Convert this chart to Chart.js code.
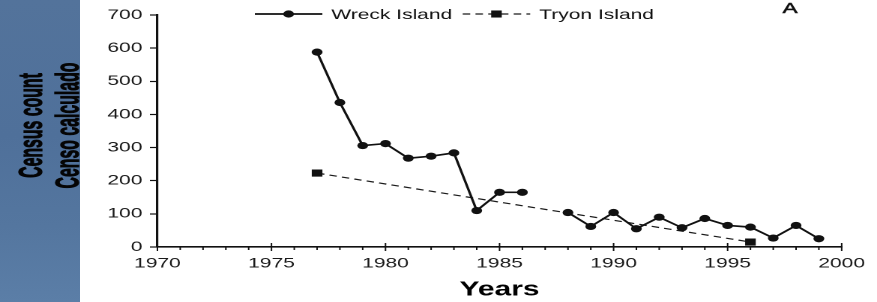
<!DOCTYPE html>
<html>
<head>
<meta charset="utf-8">
<script src="https://cdn.jsdelivr.net/npm/chart.js@4.4.0/dist/chart.umd.min.js"></script>
<style>
html,body{margin:0;padding:0;background:#fff;overflow:hidden}
#wrap{position:relative;width:877px;height:302px;background:#fff}
#panel{position:absolute;left:0;top:0;width:80px;height:302px;
  background:linear-gradient(to bottom,#53739b 0%,#4f709a 45%,#54769f 75%,#5b7ea7 100%)}
#stretch{position:absolute;left:0;top:0;width:585px;height:302px;transform:scaleX(1.49915);transform-origin:0 0}
canvas{display:block}
</style>
</head>
<body>
<div id="wrap">
  <div id="panel"></div>
  <div id="stretch"><canvas id="c" width="585" height="302"></canvas></div>
</div>
<script>
// ---- data ----
const wreckYears  = [1977,1978,1979,1980,1981,1982,1983,1984,1985,1986,1987,1988,1989,1990,1991,1992,1993,1994,1995,1996,1997,1998,1999];
const wreckCounts = [588, 436, 306, 312, 268, 274, 284, 110, 165, 165, null, 104, 62, 104, 55, 90, 58, 86, 65, 60, 27, 65, 25];
const tryonYears  = [1977, 1996];
const tryonCounts = [223, 15];
const seriesNames = ['Wreck Island', 'Tryon Island'];
const yTitle = ['Census count', 'Censo calculado'];
const xTitle = 'Years';
const panelLetter = 'A';

const toPoints = (xs, ys) => xs.map((x, i) => ({x: x, y: ys[i]}));
const INK = '#111';
const tickFont = {family: '"Liberation Sans", Arial, sans-serif', size: 14};

const minorTicks = {
  id: 'minorTicks',
  afterDraw(chart) {
    const {ctx, chartArea} = chart;
    const xs = chart.scales.x;
    const yb = chartArea.bottom;
    ctx.save();
    ctx.strokeStyle = INK;
    ctx.lineWidth = 1;
    for (let v = xs.min; v <= xs.max; v++) {
      const px = xs.getPixelForValue(v);
      const major = v % 5 === 0;
      ctx.beginPath();
      ctx.moveTo(px, major ? yb - 4 : yb);
      ctx.lineTo(px, yb + (major ? 4 : 3));
      ctx.stroke();
    }
    ctx.restore();
  }
};

// condensed, rotated y-axis title drawn in the empty left strip of the y scale
const condensedYTitle = {
  id: 'condensedYTitle',
  afterDraw(chart) {
    const ctx = chart.ctx;
    const lines = chart.options.scales.y.title.text;
    const baselines = [28, 52.5];
    const cy = 125.5;
    ctx.save();
    ctx.fillStyle = '#050505';
    ctx.strokeStyle = '#050505';
    ctx.lineWidth = 0.7;
    ctx.font = 'bold 22px "Liberation Sans", Arial, sans-serif';
    ctx.textAlign = 'center';
    ctx.textBaseline = 'alphabetic';
    lines.forEach((t, i) => {
      ctx.save();
      ctx.translate(baselines[i], cy);
      ctx.rotate(-Math.PI / 2);
      ctx.scale(0.72, 1);
      ctx.fillText(t, 0, 0);
      ctx.strokeText(t, 0, 0);
      ctx.restore();
    });
    ctx.restore();
  }
};

const lineLegend = {
  id: 'lineLegend',
  afterDraw(chart) {
    const ctx = chart.ctx;
    let x = 170;
    const y = 14;
    ctx.save();
    ctx.font = '14px "Liberation Sans", Arial, sans-serif';
    ctx.textBaseline = 'middle';
    chart.data.datasets.forEach(ds => {
      ctx.strokeStyle = ds.borderColor;
      ctx.fillStyle = ds.backgroundColor;
      ctx.lineWidth = ds.borderWidth;
      ctx.setLineDash(ds.borderDash || []);
      ctx.beginPath(); ctx.moveTo(x, y); ctx.lineTo(x + 45, y); ctx.stroke();
      ctx.setLineDash([]);
      const cx = x + 22.5;
      ctx.beginPath();
      if (ds.pointStyle === 'rect') {
        const s = Math.SQRT1_2 * ds.pointRadius;
        ctx.rect(cx - s, y - s, 2 * s, 2 * s);
      } else {
        ctx.arc(cx, y, ds.pointRadius, 0, Math.PI * 2);
      }
      ctx.fill();
      x += 51;
      ctx.fillStyle = INK;
      ctx.fillText(ds.label, x, y + 1);
      x += ctx.measureText(ds.label).width + 7;
    });
    ctx.font = '15px "Liberation Sans", Arial, sans-serif';
    ctx.textAlign = 'center';
    ctx.strokeStyle = INK;
    ctx.lineWidth = 0.5;
    ctx.fillText(panelLetter, 527, 9);
    ctx.strokeText(panelLetter, 527, 9);
    ctx.restore();
  }
};

new Chart(document.getElementById('c'), {
  type: 'line',
  data: {
    datasets: [
      {
        label: seriesNames[0],
        data: toPoints(wreckYears, wreckCounts),
        borderColor: INK, backgroundColor: INK,
        borderWidth: 1.7,
        pointStyle: 'circle', pointRadius: 3.6,
        pointBackgroundColor: INK, pointBorderColor: INK, pointBorderWidth: 0,
        spanGaps: false, tension: 0
      },
      {
        label: seriesNames[1],
        data: toPoints(tryonYears, tryonCounts),
        borderColor: '#1a1a1a', backgroundColor: INK,
        borderWidth: 1.2, borderDash: [5, 3.5],
        pointStyle: 'rect', pointRadius: 5,
        pointBackgroundColor: INK, pointBorderColor: INK, pointBorderWidth: 0,
        tension: 0
      }
    ]
  },
  options: {
    responsive: false,
    animation: false,
    devicePixelRatio: 2,
    layout: {padding: {top: 15, right: 20, left: 0, bottom: 0}},
    plugins: {legend: {display: false}, tooltip: {enabled: false}},
    scales: {
      x: {
        type: 'linear', min: 1970, max: 2000,
        afterFit: s => { s.height = 55; },
        ticks: {stepSize: 5, padding: 8, color: '#1a1a1a', font: tickFont, callback: v => String(v), maxRotation: 0},
        grid: {drawOnChartArea: false, drawTicks: false},
        border: {display: true, color: INK, width: 1.6},
        title: {display: true, text: xTitle, color: '#000', padding: {top: 6, bottom: 0},
                font: {family: '"Liberation Sans", Arial, sans-serif', size: 20, weight: 'bold', lineHeight: 1.2}}
      },
      y: {
        min: 0, max: 700,
        afterFit: s => { s.width = 105; },
        ticks: {stepSize: 100, padding: 5, color: '#1a1a1a', font: tickFont},
        grid: {drawOnChartArea: false, drawTicks: true, tickLength: 5, tickColor: INK, tickWidth: 1.2},
        border: {display: true, color: INK, width: 1.6},
        title: {display: false, text: yTitle}
      }
    }
  },
  plugins: [minorTicks, condensedYTitle, lineLegend]
});
</script>
</body>
</html>
